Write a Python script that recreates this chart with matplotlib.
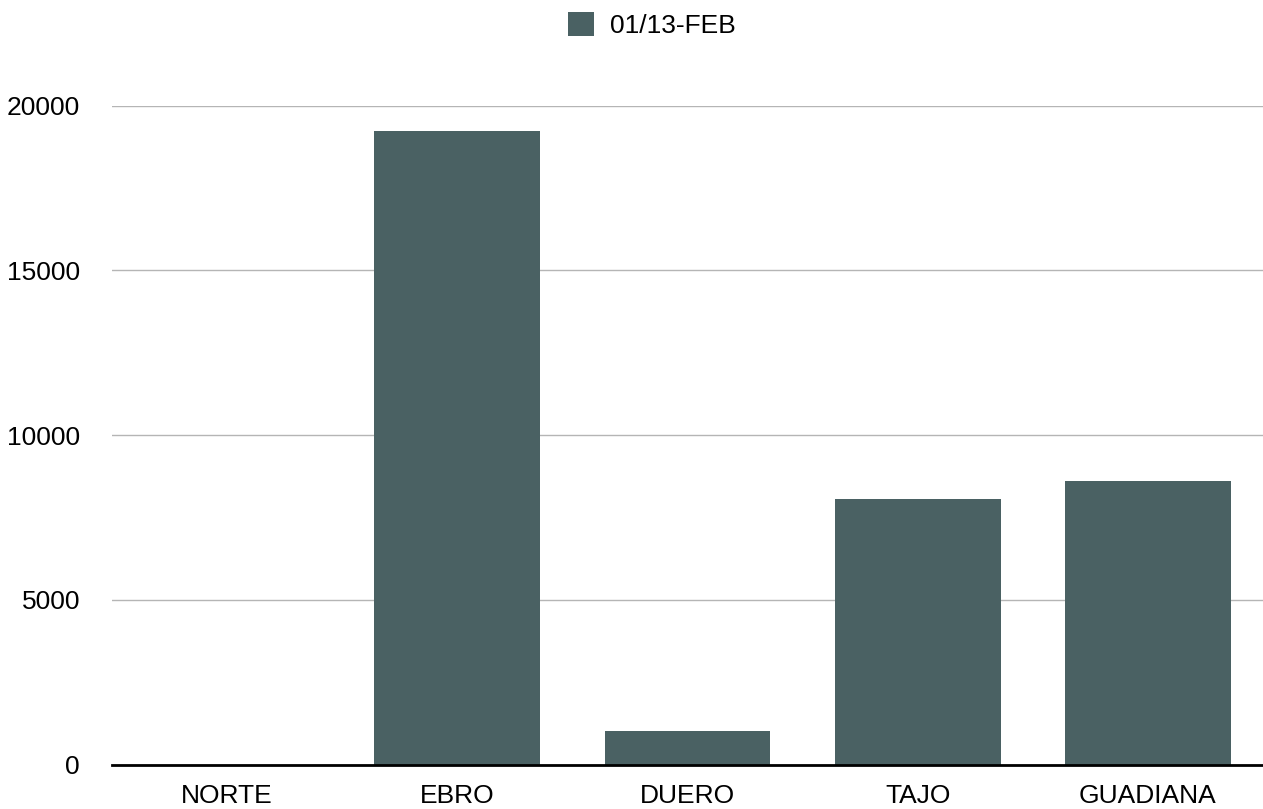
import matplotlib
matplotlib.use("Agg")
import matplotlib.pyplot as plt
from matplotlib.patches import Patch

categories = ["NORTE", "EBRO", "DUERO", "TAJO", "GUADIANA"]
values = [0, 19230, 1020, 8060, 8600]
series_name = "01/13-FEB"
yticks = [0, 5000, 10000, 15000, 20000]

color = "#4a6163"
plt.rcParams['font.family'] = ['Liberation Sans', 'DejaVu Sans']

fig = plt.figure(figsize=(12.63, 8.09), dpi=100)
ax = fig.add_axes([112/1263, 1-764.5/809, 1-112/1263, (764.5-105.7)/809])

x = range(len(categories))
ax.bar(x, values, width=0.72, color=color, zorder=3)
ax.set_xlim(-0.5, len(categories)-0.5)
ax.set_ylim(0, 20000)
ax.set_yticks(yticks)
ax.set_yticklabels([str(t) for t in yticks], fontsize=19)
ax.set_xticks(list(x))
ax.set_xticklabels(categories, fontsize=19)
ax.tick_params(axis='both', length=0)
ax.tick_params(axis='y', pad=23)
ax.tick_params(axis='x', pad=14)
for s in ['top', 'right', 'left']:
    ax.spines[s].set_visible(False)
ax.spines['bottom'].set_linewidth(2)
ax.spines['bottom'].set_color('black')
ax.spines['bottom'].set_zorder(4)
ax.yaxis.grid(True, color='#b5b5b5', linewidth=1, zorder=0)
ax.set_axisbelow(True)

handles = [Patch(facecolor=color, label=series_name)]
fig.legend(handles=handles, loc='center', bbox_to_anchor=(652/1263, 1-25/809),
           frameon=False, fontsize=19, handlelength=1.0, handleheight=1.0,
           handletextpad=0.6)

fig.savefig("out.png", dpi=100)
